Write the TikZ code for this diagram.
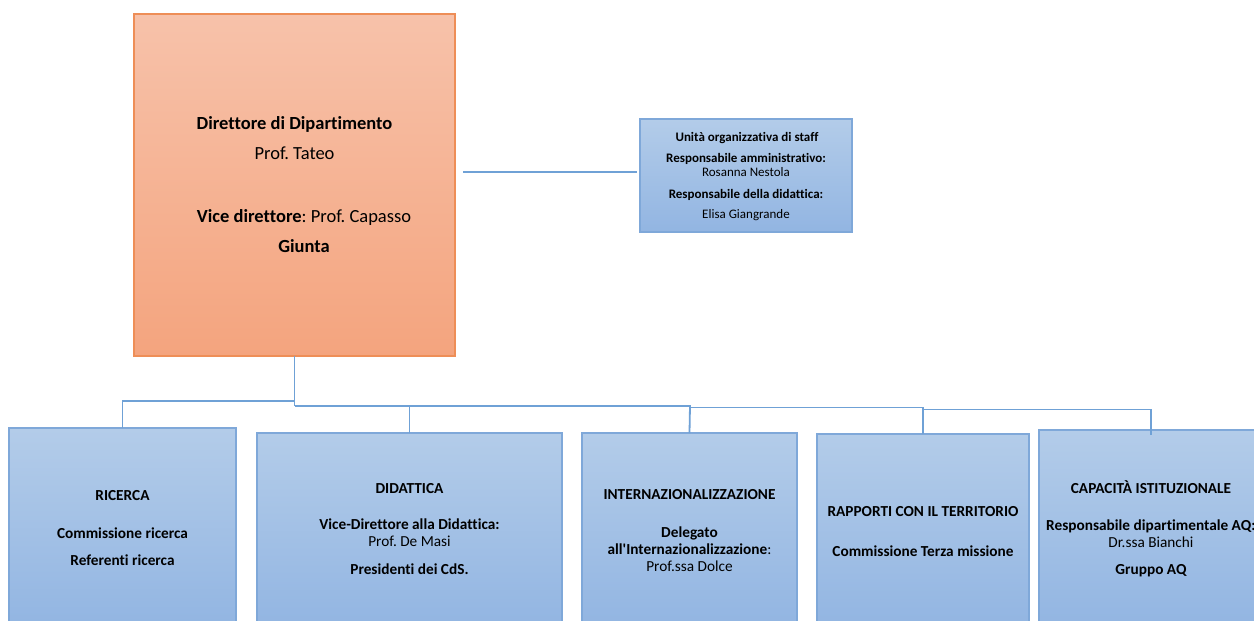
\documentclass[tikz,border=0pt]{standalone}
\usepackage{fontspec}
\setmainfont{Carlito}[Ligatures={NoCommon}]
\frenchspacing
\begin{document}
\begin{tikzpicture}[x=1pt,y=-1pt,
  box/.style={draw, line width=1.3pt, inner sep=0pt, outer sep=0pt},
  orangebox/.style={box, draw=orBorder, top color=orTop, bottom color=orBot},
  bluebox/.style={box, draw=blBorder, top color=blTop, bottom color=blBot},
  conn/.style={draw=lnCol, line width=1.8pt},
  tm/.style={font=\fontsize{18.5}{20}\selectfont, anchor=base, inner sep=0pt},
  tb/.style={font=\fontsize{15.3}{17}\selectfont, anchor=base, inner sep=0pt},
  ts/.style={font=\fontsize{13}{14}\selectfont, anchor=base, inner sep=0pt}]
\definecolor{orTop}{HTML}{F7C2AA}
\definecolor{orBot}{HTML}{F4A47E}
\definecolor{orBorder}{HTML}{EE8E57}
\definecolor{blTop}{HTML}{B3CCE9}
\definecolor{blBot}{HTML}{92B5E2}
\definecolor{blBorder}{HTML}{7FA8D9}
\definecolor{lnCol}{HTML}{6FA1D6}
\useasboundingbox (0,0) rectangle (1254,621);
\fill[white] (0,0) rectangle (1254,621);

% boxes
\node[orangebox, minimum width=321pt, minimum height=342pt] (main) at (294.5,185) {};
\node[bluebox, minimum width=212pt, minimum height=113pt] (staff) at (746,175.5) {};
\node[bluebox, minimum width=227pt, minimum height=200pt] (ric) at (122.5,528) {};
\node[bluebox, minimum width=305pt, minimum height=195pt] (did) at (409.5,530.5) {};
\node[bluebox, minimum width=215pt, minimum height=195pt] (int) at (689.5,530.5) {};
\node[bluebox, minimum width=212pt, minimum height=194pt] (rap) at (923,531) {};
\node[bluebox, minimum width=224pt, minimum height=198pt] (cap) at (1151,529) {};

% connectors
\coordinate (sl) at (463,172);
\coordinate (sr) at (637,172);
\draw[conn] (sl) -- (sr);
\coordinate (j1) at (294.5,401);
\coordinate (j2) at (294.5,406);
\coordinate (k1) at (690,406);
\coordinate (k2) at (690,407.5);
\coordinate (k3) at (923,407.5);
\coordinate (k4) at (923,409.5);
\draw[conn] (main.south) -- (j2);
\draw[conn] (j1) -| (ric.north);
\draw[conn] (j2) -- (k1) -- (k2) -- (k3) -- (k4) -| ([yshift=-5pt]cap.north);
\draw[conn] (did.north) -- (did.north |- j2);
\draw[conn] (int.north) -- (k1);
\draw[conn] (rap.north) -- (k3);

% main texts
\node[tm] (t1) at (294.5,129.5) {\bfseries Direttore di Dipartimento};
\node[tm] (t2) at (294.5,159) {Prof. Tateo};
\node[tm] (t3) at (304,222) {\textbf{Vice direttore}: Prof. Capasso};
\node[tm] (t4) at (304,252) {\bfseries Giunta};

% staff texts
\node[ts] (s1) at (747,141) {\bfseries Unità organizzativa di staff};
\node[ts] (s2) at (746,162) {\bfseries Responsabile amministrativo:};
\node[ts] (s3) at (746,176.5) {Rosanna Nestola};
\node[ts] (s4) at (746,198.5) {\bfseries Responsabile della didattica:};
\node[ts] (s5) at (746,218) {Elisa Giangrande};

% ricerca
\node[tb] (r1) at (122.5,500) {\bfseries RICERCA};
\node[tb] (r2) at (122.5,538) {\bfseries Commissione ricerca};
\node[tb] (r3) at (122.5,565.5) {\bfseries Referenti ricerca};

% didattica
\node[tb] (d1) at (409.5,493) {\bfseries DIDATTICA};
\node[tb] (d2) at (409.5,529) {\bfseries Vice-Direttore alla Didattica:};
\node[tb] (d3) at (409.5,546.5) {Prof. De Masi};
\node[tb] (d4) at (409.5,574) {\bfseries Presidenti dei CdS.};

% internazionalizzazione
\node[tb] (i1) at (689.5,499.5) {\bfseries INTERNAZIONALIZZAZIONE};
\node[tb] (i2) at (689.5,537) {\bfseries Delegato};
\node[tb] (i3) at (689.5,554) {\textbf{all\textquotesingle Internazionalizzazione}:};
\node[tb] (i4) at (689.5,571) {Prof.ssa Dolce};

% rapporti
\node[tb] (p1) at (923,516.5) {\bfseries RAPPORTI CON IL TERRITORIO};
\node[tb] (p2) at (923,556) {\bfseries Commissione Terza missione};

% capacita
\node[tb] (c1) at (1151,493) {\bfseries CAPACITÀ ISTITUZIONALE};
\node[tb, anchor=base west] (c2) at (1046,530) {\bfseries Responsabile dipartimentale AQ:};
\node[tb] (c3) at (1151,547) {Dr.ssa Bianchi};
\node[tb] (c4) at (1151,574.5) {\bfseries Gruppo AQ};
\end{tikzpicture}
\end{document}
